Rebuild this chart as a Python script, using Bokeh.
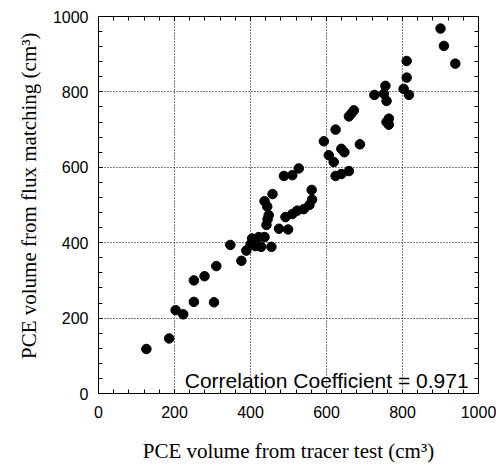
from bokeh.plotting import figure
from bokeh.models import LinearAxis, SingleIntervalTicker, Label, ColumnDataSource, Title
from bokeh.embed import file_html
from bokeh.resources import INLINE

# PCE volume from tracer test (cm3)
tracer = [126, 186, 203, 223, 251, 251, 279, 304, 310, 347, 376, 389,
          400, 404, 413, 422, 428, 437, 455, 442, 445, 448, 437, 444, 458,
          475, 499, 492, 510, 523, 540, 555, 562, 561, 488, 510, 527,
          593, 624, 606, 619, 639, 647, 688, 624, 639, 659, 659, 665, 672,
          726, 751, 758, 755, 764, 758, 764, 803, 817, 811, 811, 900, 909, 939]
# PCE volume from flux matching (cm3)
flux = [118, 146, 221, 210, 243, 300, 311, 242, 338, 394, 352, 379,
        395, 411, 391, 415, 389, 415, 389, 447, 462, 473, 510, 496, 529,
        437, 435, 468, 476, 485, 489, 500, 514, 540, 577, 579, 597,
        669, 700, 632, 614, 649, 640, 661, 577, 582, 590, 735, 742, 751,
        792, 795, 776, 816, 729, 720, 713, 808, 792, 838, 882, 968, 922, 875]

axis_ticks_interval = 200
corr_text = "Correlation Coefficient = 0.971"
x_title = "PCE volume from tracer test (cm³)"
y_title = "PCE volume from flux matching (cm³)"

src = ColumnDataSource(dict(x=tracer, y=flux))

p = figure(width=496, height=465, x_range=(0, 1000), y_range=(0, 1000),
           output_backend="svg", toolbar_location=None,
           min_border_left=98, min_border_top=16, min_border_right=18,
           min_border_bottom=69)
p.background_fill_color = "white"
p.border_fill_color = "white"
p.outline_line_color = "black"
p.outline_line_width = 1

ticker = SingleIntervalTicker(interval=axis_ticks_interval, num_minor_ticks=5)

for ax in (p.xaxis[0], p.yaxis[0]):
    ax.ticker = ticker
    ax.major_tick_in = 4
    ax.major_tick_out = 0
    ax.minor_tick_in = 4
    ax.minor_tick_out = 0
    ax.axis_line_color = "black"
    ax.major_tick_line_color = "black"
    ax.minor_tick_line_color = "black"
    ax.major_label_text_font = "Liberation Sans"
    ax.major_label_text_font_size = "16px"
    ax.major_label_text_color = "black"
    ax.axis_label_text_font = "Liberation Serif"
    ax.axis_label_text_font_size = "21px"
    ax.axis_label_text_font_style = "normal"
    ax.axis_label_text_color = "black"

p.xaxis.major_label_standoff = 12
p.yaxis.major_label_standoff = 10
p.xaxis.axis_label = x_title
p.xaxis.axis_label_standoff = 18

ytitle = Title(text=y_title, align="right", offset=16, standoff=18,
               text_font="Liberation Serif", text_font_size="21px",
               text_font_style="normal", text_color="black")
p.add_layout(ytitle, "left")

for loc in ("above", "right"):
    ax = LinearAxis(ticker=ticker, major_tick_in=4, major_tick_out=0,
                    minor_tick_in=4, minor_tick_out=0,
                    major_label_text_font_size="0px",
                    major_label_text_color=None, major_label_standoff=0,
                    axis_line_color="black", major_tick_line_color="black",
                    minor_tick_line_color="black")
    p.add_layout(ax, loc)

p.grid.ticker = ticker
p.grid.grid_line_color = "black"
p.grid.grid_line_dash = "1 2"
p.grid.grid_line_width = 1

p.scatter("x", "y", source=src, size=9.5, color="black")

lab = Label(x=974, y=34, text=corr_text, text_align="right",
            text_baseline="alphabetic", text_font="Liberation Sans",
            text_font_size="21px", text_color="black")
p.add_layout(lab)

open("out.html", "w").write(file_html(p, INLINE))
